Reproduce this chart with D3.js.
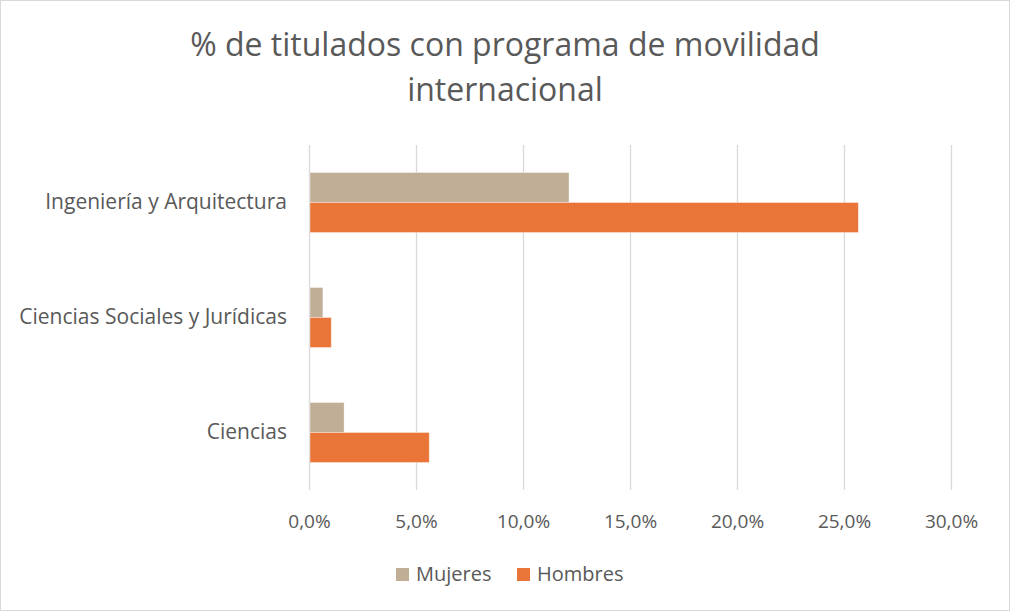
<!DOCTYPE html>
<html>
<head>
<meta charset="utf-8">
<script src="https://cdn.jsdelivr.net/npm/d3@7"></script>
<style>
  body { margin: 0; background: #fff; }
  text { font-family: "Open Sans", sans-serif; fill: #595959; }
</style>
</head>
<body>
<div id="chart"></div>
<script>
var categories = ["Ingeniería y Arquitectura", "Ciencias Sociales y Jurídicas", "Ciencias"];
var series = ["Mujeres", "Hombres"];
var mujeres = [0.1215, 0.0065, 0.0164];
var hombres = [0.2567, 0.0104, 0.0562];
var ticks = [0, 0.05, 0.10, 0.15, 0.20, 0.25, 0.30];
var colors = ["#c1ae96", "#e97638"];

var width = 1010,
    height = 611;

var svg = d3.select("#chart")
    .append("svg")
    .attr("width", width)
    .attr("height", height);

// chart border
svg.append("rect")
    .attr("x", 0.5).attr("y", 0.5)
    .attr("width", width - 1).attr("height", height - 1)
    .style("fill", "#fff")
    .style("stroke", "#d9d9d9");

// title
var title = svg.append("text")
    .attr("x", 505)
    .attr("text-anchor", "middle")
    .style("font-size", "32px");
title.append("tspan").attr("x", 505).attr("y", 56).text("% de titulados con programa de movilidad");
title.append("tspan").attr("x", 505).attr("y", 101).text("internacional");

var x = d3.scaleLinear()
    .domain([0, 0.30])
    .range([309, 951]);

var y = d3.scaleBand()
    .domain(categories)
    .range([145, 490])
    .paddingInner(0.478)
    .paddingOuter(0.239);

var ySub = d3.scaleBand()
    .domain(series)
    .range([0, y.bandwidth()]);

// gridlines
svg.append("g")
    .selectAll("line")
    .data(ticks)
    .enter()
    .append("line")
    .attr("x1", function(d) { return Math.round(x(d)) + 0.5; })
    .attr("x2", function(d) { return Math.round(x(d)) + 0.5; })
    .attr("y1", 145)
    .attr("y2", 490)
    .style("stroke", "#d9d9d9")
    .style("stroke-width", 1.3);

// bars
var rows = categories.map(function(c, i) {
  return {cat: c, vals: [{s: "Mujeres", v: mujeres[i]}, {s: "Hombres", v: hombres[i]}]};
});

var groups = svg.append("g")
    .selectAll("g")
    .data(rows)
    .enter()
    .append("g")
    .attr("transform", function(d) { return "translate(0," + y(d.cat) + ")"; });

groups.selectAll("rect")
    .data(function(d) { return d.vals; })
    .enter()
    .append("rect")
    .attr("x", x(0) + 1)
    .attr("y", function(d) { return ySub(d.s); })
    .attr("width", function(d) { return x(d.v) - x(0) - 1; })
    .attr("height", ySub.bandwidth())
    .style("fill", function(d, i) { return colors[i]; })
    .style("stroke", "#fff")
    .style("stroke-opacity", 0.5)
    .style("stroke-width", 0.75);

// x axis labels
var xAxis = d3.axisBottom(x)
    .tickValues(ticks)
    .tickSize(0)
    .tickPadding(0)
    .tickFormat(function(d) { return d3.format(".1f")(d * 100).replace(".", ",") + "%"; });

var gx = svg.append("g")
    .attr("transform", "translate(0,514)")
    .call(xAxis);
gx.select(".domain").remove();
gx.selectAll("text")
    .style("font-size", "19px")
    .style("font-family", "\"Open Sans\", sans-serif")
    .attr("fill", "#595959");

// y axis labels
var yAxis = d3.axisLeft(y)
    .tickSize(0)
    .tickPadding(0);

var gy = svg.append("g")
    .attr("transform", "translate(287,0)")
    .call(yAxis);
gy.select(".domain").remove();
gy.selectAll("text")
    .style("font-size", "21px")
    .style("font-family", "\"Open Sans\", sans-serif")
    .attr("fill", "#595959");

// legend
var legendX = [396, 517];
var legend = svg.append("g")
    .selectAll("g")
    .data(series)
    .enter()
    .append("g")
    .attr("transform", function(d, i) { return "translate(" + legendX[i] + ",568)"; });

legend.append("rect")
    .attr("width", 13)
    .attr("height", 13)
    .style("fill", function(d, i) { return colors[i]; });

legend.append("text")
    .attr("x", 20)
    .attr("y", 13)
    .style("font-size", "20px")
    .text(function(d) { return d; });
</script>
</body>
</html>
